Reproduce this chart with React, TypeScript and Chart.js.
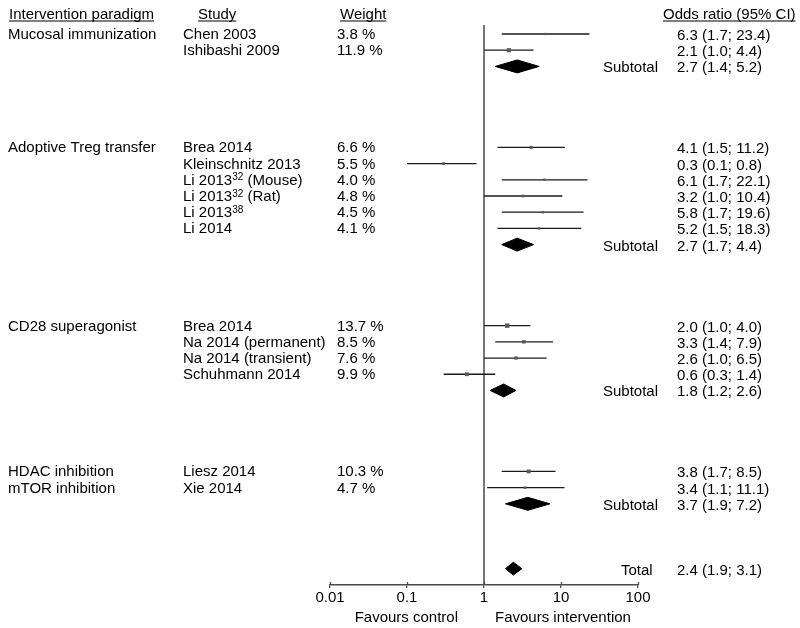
import React, { useEffect, useRef } from "react";
import { Chart, registerables } from "chart.js";

Chart.register(...registerables);

const headers = ["Intervention paradigm", "Study", "Weight", "Odds ratio (95% CI)"];

const groupLabels = [
  "Mucosal immunization",
  "Adoptive Treg transfer",
  "CD28 superagonist",
  "HDAC inhibition",
  "mTOR inhibition",
];
const groupRows = [0, 7, 18, 27, 28];

const studyNames = [
  "Chen 2003",
  "Ishibashi 2009",
  "Brea 2014",
  "Kleinschnitz 2013",
  "Li 2013^{32} (Mouse)",
  "Li 2013^{32} (Rat)",
  "Li 2013^{38}",
  "Li 2014",
  "Brea 2014",
  "Na 2014 (permanent)",
  "Na 2014 (transient)",
  "Schuhmann 2014",
  "Liesz 2014",
  "Xie 2014",
];
const studyRows = [0, 1, 7, 8, 9, 10, 11, 12, 18, 19, 20, 21, 27, 28];
const studyWeights = [3.8, 11.9, 6.6, 5.5, 4.0, 4.8, 4.5, 4.1, 13.7, 8.5, 7.6, 9.9, 10.3, 4.7];
const studyOR = [6.3, 2.1, 4.1, 0.3, 6.1, 3.2, 5.8, 5.2, 2.0, 3.3, 2.6, 0.6, 3.8, 3.4];
const studyLower = [1.7, 1.0, 1.5, 0.1, 1.7, 1.0, 1.7, 1.5, 1.0, 1.4, 1.0, 0.3, 1.7, 1.1];
const studyUpper = [23.4, 4.4, 11.2, 0.8, 22.1, 10.4, 19.6, 18.3, 4.0, 7.9, 6.5, 1.4, 8.5, 11.1];

const pooledLabels = ["Subtotal", "Subtotal", "Subtotal", "Subtotal", "Total"];
const pooledRows = [2, 13, 22, 29, 33];
const pooledOR = [2.7, 2.7, 1.8, 3.7, 2.4];
const pooledLower = [1.4, 1.7, 1.2, 1.9, 1.9];
const pooledUpper = [5.2, 4.4, 2.6, 7.2, 3.1];

const xTickValues = [0.01, 0.1, 1, 10, 100];
const xTickLabels = ["0.01", "0.1", "1", "10", "100"];
const favourLabels = ["Favours control", "Favours intervention"];

const Y_MIN = -0.556;
const Y_MAX = 34.01;
const FONT = '"Liberation Sans", Arial, Helvetica, sans-serif';
const INK = "#000000";
const AXIS_GREY = "#4a4a4a";

function fmtCI(o: number, l: number, u: number) {
  return `${o.toFixed(1)} (${l.toFixed(1)}; ${u.toFixed(1)})`;
}

function drawRich(ctx: CanvasRenderingContext2D, text: string, x: number, y: number) {
  const parts = text.split(/(\^\{[^}]*\})/);
  let cx = x;
  for (const p of parts) {
    if (!p) continue;
    if (p.startsWith("^{")) {
      const s = p.slice(2, -1);
      ctx.font = `10px ${FONT}`;
      ctx.fillText(s, cx, y - 4.5);
      cx += ctx.measureText(s).width;
    } else {
      ctx.font = `15px ${FONT}`;
      ctx.fillText(p, cx, y);
      cx += ctx.measureText(p).width;
    }
  }
}

const textPlugin = {
  id: "forestText",
  afterDraw(chart: any) {
    const ctx: CanvasRenderingContext2D = chart.ctx;
    const ys = chart.scales.y;
    const xs = chart.scales.x;
    ctx.save();

    // small inward part of the x-axis tick marks
    ctx.strokeStyle = AXIS_GREY;
    ctx.lineWidth = 1.3;
    xTickValues.forEach((v) => {
      const px = Math.round(xs.getPixelForValue(v)) + 0.5;
      ctx.beginPath();
      ctx.moveTo(px, chart.chartArea.bottom);
      ctx.lineTo(px, chart.chartArea.bottom - 3);
      ctx.stroke();
    });

    ctx.fillStyle = INK;
    ctx.textBaseline = "alphabetic";
    ctx.textAlign = "left";
    ctx.font = `15px ${FONT}`;

    // headers
    const headerX = [9, 198, 340, 663];
    headers.forEach((h, i) => {
      ctx.fillText(h, headerX[i], 19);
      const w = ctx.measureText(h).width;
      ctx.fillRect(headerX[i], 20.5, w, 1);
    });

    const rowY = (r: number) => ys.getPixelForValue(r) + 5;

    groupLabels.forEach((g, i) => {
      ctx.fillText(g, 8, rowY(groupRows[i]));
    });

    studyNames.forEach((n, i) => {
      const y = rowY(studyRows[i]);
      drawRich(ctx, n, 183, y);
      ctx.font = `15px ${FONT}`;
      ctx.fillText(`${studyWeights[i].toFixed(1)} %`, 337, y);
      ctx.fillText(fmtCI(studyOR[i], studyLower[i], studyUpper[i]), 677, y + 1);
    });

    pooledLabels.forEach((p, i) => {
      const y = rowY(pooledRows[i]);
      ctx.fillText(p, p === "Total" ? 621 : 603, y + 1);
      ctx.fillText(fmtCI(pooledOR[i], pooledLower[i], pooledUpper[i]), 677, y + 1);
    });

    // favours labels
    const x1 = xs.getPixelForValue(1);
    ctx.textAlign = "right";
    ctx.fillText(favourLabels[0], x1 - 26, 622);
    ctx.textAlign = "left";
    ctx.fillText(favourLabels[1], x1 + 11, 622);
    ctx.restore();
  },
};

export default function App() {
  const ref = useRef<HTMLCanvasElement | null>(null);

  useEffect(() => {
    if (!ref.current) return;
    const datasets: any[] = [];

    // line of no effect
    datasets.push({
      data: [
        { x: 1, y: Y_MIN },
        { x: 1, y: Y_MAX },
      ],
      showLine: true,
      borderColor: AXIS_GREY,
      borderWidth: 1.5,
      pointRadius: 0,
      order: 5,
    });

    // confidence intervals
    studyNames.forEach((_, i) => {
      datasets.push({
        data: [
          { x: studyLower[i], y: studyRows[i] },
          { x: studyUpper[i], y: studyRows[i] },
        ],
        showLine: true,
        borderColor: "#1a1a1a",
        borderWidth: 1.3,
        pointRadius: 0,
        order: 4,
      });
    });

    // point estimates
    datasets.push({
      data: studyNames.map((_, i) => ({ x: studyOR[i], y: studyRows[i] })),
      pointStyle: "rect",
      pointRadius: studyWeights.map((w) => Math.sqrt(w) * 0.85),
      backgroundColor: "#5a5a5a",
      borderWidth: 0,
      showLine: false,
      order: 1,
    });

    // pooled diamonds
    const h = 0.4;
    pooledLabels.forEach((_, i) => {
      const r = pooledRows[i];
      datasets.push({
        data: [
          { x: pooledLower[i], y: r },
          { x: pooledOR[i], y: r - h },
          { x: pooledUpper[i], y: r },
          { x: pooledOR[i], y: r + h },
          { x: pooledLower[i], y: r },
        ],
        showLine: true,
        fill: "shape",
        backgroundColor: "#000000",
        borderColor: "#000000",
        borderWidth: 1,
        pointRadius: 0,
        tension: 0,
        order: 2,
      });
    });

    const chart = new Chart(ref.current, {
      type: "scatter",
      data: { datasets },
      options: {
        responsive: false,
        animation: false,
        events: [],
        layout: { padding: { left: 330, right: 162, top: 25, bottom: 0 } },
        plugins: {
          legend: { display: false },
          tooltip: { enabled: false },
          title: { display: false },
        },
        scales: {
          x: {
            type: "logarithmic",
            min: 0.01,
            max: 100,
            afterBuildTicks: (scale: any) => {
              scale.ticks = xTickValues.map((v) => ({ value: v }));
            },
            afterFit: (scale: any) => {
              scale.height = 43;
            },
            ticks: {
              autoSkip: false,
              maxRotation: 0,
              padding: 1,
              color: INK,
              font: { family: FONT, size: 15 },
              callback: (value: any) => {
                const i = xTickValues.indexOf(Number(value));
                return i >= 0 ? xTickLabels[i] : "";
              },
            },
            grid: {
              display: true,
              drawOnChartArea: false,
              drawTicks: true,
              tickLength: 3,
              color: AXIS_GREY,
              lineWidth: 1.3,
            },
            border: { display: true, color: AXIS_GREY, width: 1.5 },
          },
          y: {
            type: "linear",
            reverse: true,
            min: Y_MIN,
            max: Y_MAX,
            display: false,
          },
        },
      } as any,
      plugins: [textPlugin],
    });
    return () => chart.destroy();
  }, []);

  return (
    <div style={{ position: "absolute", left: 0, top: 0, width: 800, height: 628, background: "#fff" }}>
      <canvas ref={ref} width={800} height={628} />
    </div>
  );
}
